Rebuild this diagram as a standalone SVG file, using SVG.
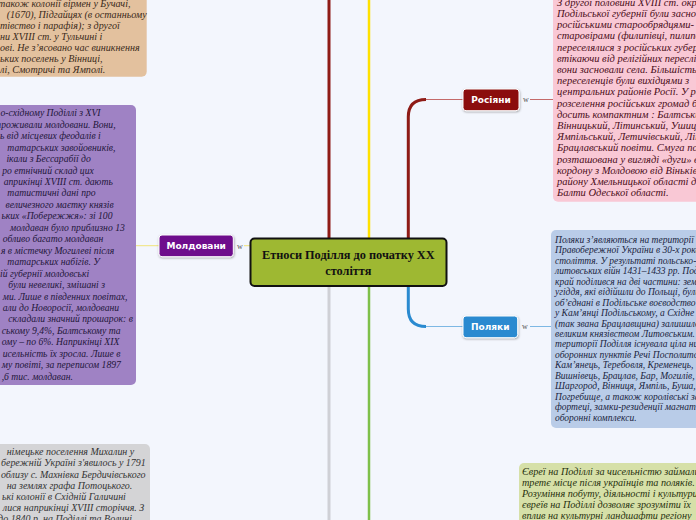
<svg xmlns="http://www.w3.org/2000/svg" width="696" height="520" viewBox="0 0 696 520">
<defs>
<style>
.bg{fill:#f3f6fd}
.note{font-family:"Liberation Serif","Times New Roman",serif;font-style:italic;font-size:10.5px}
.lbl{font-family:"DejaVu Sans",Verdana,sans-serif;font-weight:bold;font-size:9px;fill:#ffffff;text-anchor:middle}
.w{font-family:"Liberation Serif",serif;font-size:8px;fill:#555;text-anchor:middle}
.node{stroke:#ffffff;stroke-width:1;filter:url(#sh)}
.ttl{font-family:"Liberation Serif","Times New Roman",serif;font-weight:bold;font-size:12.3px;fill:#111;text-anchor:middle}
</style>
<filter id="sh" x="-20%" y="-30%" width="140%" height="160%">
<feDropShadow dx="0.5" dy="1" stdDeviation="0.8" flood-color="#000" flood-opacity="0.35"/>
</filter>
</defs>
<rect class="bg" x="0" y="0" width="696" height="520"/>

<g id="connectors" fill="none">
<line x1="329" y1="0" x2="329" y2="240" stroke="#8e1b16" stroke-width="3"/>
<line x1="369" y1="0" x2="369" y2="240" stroke="#ffe100" stroke-width="2.5"/>
<line x1="329" y1="285" x2="329" y2="520" stroke="#cfd0d6" stroke-width="3"/>
<line x1="369" y1="285" x2="369" y2="520" stroke="#7ec04a" stroke-width="2.5"/>
<path d="M408.3 240 V117 Q408.3 99.5 426 99.5" stroke="#8e1b16" stroke-width="3"/>
<line x1="426" y1="99.5" x2="463" y2="99.5" stroke="#c46a6a" stroke-width="1"/>
<line x1="530" y1="99.5" x2="553" y2="99.5" stroke="#c46a6a" stroke-width="1"/>
<path d="M408.3 285 V309 Q408.3 326.5 426 326.5" stroke="#2a8ad0" stroke-width="3"/>
<line x1="426" y1="326.5" x2="463" y2="326.5" stroke="#7db8e4" stroke-width="1"/>
<line x1="530" y1="326.5" x2="551" y2="326.5" stroke="#7db8e4" stroke-width="1"/>
<line x1="136" y1="245.7" x2="159" y2="245.7" stroke="#f0e37a" stroke-width="1"/>
<line x1="244" y1="245.7" x2="250" y2="245.7" stroke="#f0e37a" stroke-width="1"/>
</g>

<g id="note-armenians">
<rect x="-10" y="-10" width="156.7" height="86.7" rx="5" fill="#e3c19e"/>
<g class="note" fill="#3a2a1a" transform="scale(0.96,1)">
<text x="-2" y="6.5">також колонії вірмен у Бучачі,</text>
<text x="7" y="17.6">(1670), Підгайцях (в останньому</text>
<text x="0" y="28.7">тівство і парафія); з другої</text>
<text x="0" y="39.8">ни XVIII ст.   у Тульчині і</text>
<text x="0" y="50.9">ові. Не з’ясовано час виникнення</text>
<text x="0" y="62">ьких поселень у Вінниці,</text>
<text x="0" y="73.1">лі, Смотричі та Ямполі.</text>
</g>
</g>

<g id="note-moldovans">
<rect x="-10" y="105" width="146" height="280" rx="5" fill="#9f82c4"/>
<g class="note" fill="#23163a" transform="scale(0.92,1)">
<text x="0.5" y="116.3">о-східному Поділлі з XVI</text>
<text x="-4" y="127.8">проживали молдовани. Вони,</text>
<text x="0" y="139.2">ь від місцевих феодалів і</text>
<text x="8" y="150.7">татарських завойовників,</text>
<text x="7" y="162.1">ікали з Бессарабії до</text>
<text x="2.5" y="173.6">ро етнічний склад цих</text>
<text x="4" y="185">априкінці XVIII ст. дають</text>
<text x="8" y="196.5">татистичні дані про</text>
<text x="6" y="208">величезного маєтку князів</text>
<text x="1.5" y="219.4">ьких «Побережжя»: зі 100</text>
<text x="11" y="230.9">молдаван було приблизно 13</text>
<text x="3" y="242.3">обливо багато молдаван</text>
<text x="1" y="253.8">я в містечку Могилеві після</text>
<text x="8" y="265.3">татарських набігів. У</text>
<text x="0" y="276.7">ій губернії молдовські</text>
<text x="9" y="288.2">були невеликі, змішані з</text>
<text x="3" y="299.6">ми. Лише в південних повітах,</text>
<text x="3" y="311.1">али до Новоросії, молдовани</text>
<text x="9" y="322.5">складали значний прошарок: в</text>
<text x="2" y="334">ському   9,4%, Балтському та</text>
<text x="2" y="345.5">ому – по 6%. Наприкінці XIX</text>
<text x="3" y="356.9">исельність їх зросла. Лише в</text>
<text x="2" y="368.4">му повіті, за переписом 1897</text>
<text x="1.8" y="379.8">,6 тис. молдаван.</text>
</g>
</g>

<g id="note-germans">
<rect x="-10" y="444" width="160" height="90" rx="5" fill="#d4d4d6"/>
<g class="note" fill="#333333" transform="scale(0.95,1)">
<text x="7" y="455.3">німецьке поселення Михалин у</text>
<text x="1" y="466.5">бережній Україні з'явилось у 1791</text>
<text x="1" y="477.7">облизу с. Махнівка Бердичівського</text>
<text x="7" y="488.9">на землях графа Потоцького.</text>
<text x="2" y="500.1">ькі колонії в Східній Галичині</text>
<text x="3" y="511.3">лися наприкінці XVIII сторіччя. З</text>
<text x="-2" y="522.5">до 1840 р. на Поділлі та Волині</text>
</g>
</g>

<g id="note-russians">
<rect x="553" y="-10" width="160" height="211.7" rx="5" fill="#f9c8d5"/>
<g class="note" fill="#4a0c18">
<text x="557" y="5.7">З другої половини XVIII ст. окремі</text>
<text x="557" y="16.9">Подільської губернії були засновані</text>
<text x="557" y="28.1">російськими старообрядцями-</text>
<text x="557" y="39.3">старовірами (филипівці, пилипони)</text>
<text x="557" y="50.5">переселялися з російських губерній,</text>
<text x="557" y="61.7">втікаючи від релігійних переслідувань,</text>
<text x="557" y="72.9">вони засновали села. Більшість</text>
<text x="557" y="84.1">переселенців були вихідцями з</text>
<text x="557" y="95.3">центральних районів Росії. У регіоні</text>
<text x="557" y="106.5">розселення російських громад було</text>
<text x="557" y="117.7">досить компактним : Балтський,</text>
<text x="557" y="128.9">Вінницький, Літинський, Ушицький,</text>
<text x="557" y="140.1">Ямпільський, Летичівський, Літинський</text>
<text x="557" y="151.3">Брацлавський повіти. Смуга поселень</text>
<text x="557" y="162.5">розташована у вигляді «дуги» вздовж</text>
<text x="557" y="173.7">кордону з Молдовою   від Віньківецького</text>
<text x="557" y="184.9">району Хмельницької області до</text>
<text x="557" y="196.1">Балти Одеської області.</text>
</g>
</g>

<g id="note-poles">
<rect x="551" y="230" width="160" height="198" rx="5" fill="#b9cce8"/>
<g class="note" fill="#1a2440" style="font-size:10.6px" transform="translate(555,0) scale(0.9,1)">
<text x="0" y="243">Поляки з’являються на території</text>
<text x="0" y="253.5">Правобережної України в 30-х роках XIV</text>
<text x="0" y="263.9">століття. У результаті польсько-</text>
<text x="0" y="274.4">литовських війн 1431–1433 рр. Поділля</text>
<text x="0" y="284.8">край поділився на дві частини: землі та</text>
<text x="0" y="295.3">угіддя, які відійшли до Польщі, були</text>
<text x="0" y="305.7">об’єднані в Подільське воєводство з</text>
<text x="0" y="316.2">у Кам’янці Подільському, а Східне Поділля</text>
<text x="0" y="326.6">(так звана Брацлавщина) залишилося</text>
<text x="0" y="337.1">великим князівством Литовським. На</text>
<text x="0" y="347.5">території Поділля існувала ціла низка</text>
<text x="0" y="358">оборонних пунктів Речі Посполитої –</text>
<text x="0" y="368.4">Кам’янець, Теребовля, Кременець,</text>
<text x="0" y="378.9">Вишнівець, Брацлав, Бар, Могилів,</text>
<text x="0" y="389.3">Шаргород, Вінниця, Ямпіль, Буша, Кальник,</text>
<text x="0" y="399.8">Погребище, а також королівські замки,</text>
<text x="0" y="410.2">фортеці, замки-резиденції магнатів,</text>
<text x="0" y="420.7">оборонні комплекси.</text>
</g>
</g>

<g id="note-jews">
<rect x="519" y="463" width="190" height="70" rx="5" fill="#d6e0a8"/>
<g class="note" fill="#26300e" style="font-size:10.2px">
<text x="522" y="475.3">Євреї на Поділлі за чисельністю займали</text>
<text x="522" y="486.3">третє місце після українців та поляків.</text>
<text x="522" y="497.3">Розуміння побуту, діяльності і культури</text>
<text x="522" y="508.3">євреїв на Поділлі дозволяє зрозуміти їх</text>
<text x="522" y="519.3">вплив на культурні ландшафти регіону</text>
</g>
</g>

<g id="node-moldovany">
<rect class="node" x="159" y="235" width="74.3" height="21.7" rx="3" fill="#6e0e8c"/>
<text class="lbl" x="196.2" y="249.2">Молдовани</text>
<text class="w" x="240" y="248.5">w</text>
</g>

<g id="node-rosiyany">
<rect class="node" x="463" y="89" width="56" height="21.7" rx="3" fill="#8b0d0b"/>
<text class="lbl" x="491" y="103.2">Росіяни</text>
<text class="w" x="526" y="102.3">w</text>
</g>

<g id="node-polyaky">
<rect class="node" x="463" y="316" width="54.7" height="21.7" rx="3" fill="#2a8ad0"/>
<text class="lbl" x="490.3" y="330.2">Поляки</text>
<text class="w" x="525" y="329.3">w</text>
</g>

<g id="node-center">
<rect x="250.5" y="238.5" width="196" height="47.5" rx="4" fill="#9eb832" stroke="#111111" stroke-width="2"/>
<text class="ttl" x="348.3" y="259.3">Етноси Поділля до початку XX</text>
<text class="ttl" x="348.3" y="275.3">століття</text>
</g>
</svg>
